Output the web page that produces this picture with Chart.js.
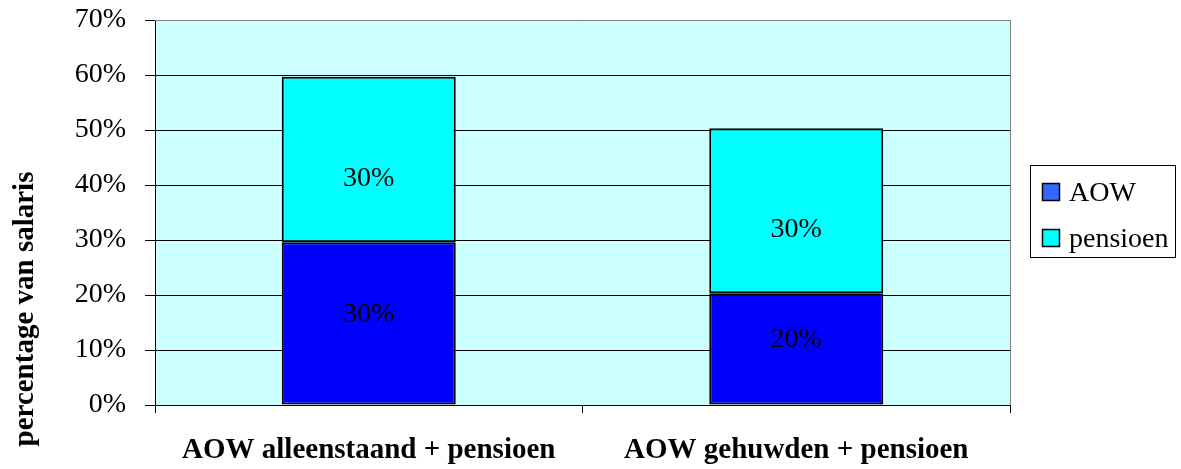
<!DOCTYPE html>
<html>
<head>
<meta charset="utf-8">
<script src="https://cdn.jsdelivr.net/npm/chart.js@4.4.0/dist/chart.umd.min.js"></script>
<style>
  body { margin: 0; background: #fff; }
  #wrap { width: 1181px; height: 469px; }
</style>
</head>
<body>
<div id="wrap"><canvas id="myChart" width="1181" height="469"></canvas></div>
<script>
// data
const categorieen = ['AOW alleenstaand + pensioen', 'AOW gehuwden + pensioen'];
const aow = [29.6, 20.3];
const pensioen = [30.1, 30.0];
const tickLabels = ['0%', '10%', '20%', '30%', '40%', '50%', '60%', '70%'];

const serif = '"Liberation Serif", "Times New Roman", serif';

// achtergrond + rand van het plotgebied
const plotBg = {
  id: 'plotBg',
  beforeDraw(chart) {
    const a = chart.chartArea, ctx = chart.ctx;
    ctx.save();
    ctx.fillStyle = '#CCFFFF';
    ctx.fillRect(a.left, a.top, a.right - a.left, a.bottom - a.top);
    ctx.restore();
  },
  afterDraw(chart) {
    const a = chart.chartArea, ctx = chart.ctx;
    ctx.save();
    ctx.strokeStyle = '#808080';
    ctx.lineWidth = 1;
    ctx.beginPath();
    ctx.moveTo(a.left, a.top + 0.5);
    ctx.lineTo(a.right + 0.5, a.top + 0.5);
    ctx.lineTo(a.right + 0.5, a.bottom);
    ctx.stroke();
    ctx.restore();
  }
};

// waarden in de staven (excel zet ze niet precies in het midden)
const labelShift = [-9, 19];
const barLabels = {
  id: 'barLabels',
  afterDatasetsDraw(chart) {
    const ctx = chart.ctx;
    ctx.save();
    ctx.font = '28px ' + serif;
    ctx.fillStyle = '#000';
    ctx.textAlign = 'center';
    ctx.textBaseline = 'middle';
    chart.data.datasets.forEach(function (ds, i) {
      chart.getDatasetMeta(i).data.forEach(function (bar, j) {
        const midY = (bar.y + bar.base) / 2 + labelShift[i];
        ctx.fillText(Math.round(ds.data[j] / 10) * 10 + '%', bar.x, midY);
      });
    });
    ctx.restore();
  }
};

// astitel en legenda
const extras = {
  id: 'extras',
  afterDraw(chart) {
    const ctx = chart.ctx;
    ctx.save();
    ctx.font = 'bold 29px ' + serif;
    ctx.fillStyle = '#000';
    ctx.translate(26, 309);
    ctx.rotate(-Math.PI / 2);
    ctx.textAlign = 'center';
    ctx.textBaseline = 'middle';
    ctx.fillText('percentage van salaris', 0, 0);
    ctx.restore();

    ctx.save();
    ctx.strokeStyle = '#000';
    ctx.lineWidth = 1;
    ctx.strokeRect(1030.5, 165.5, 145, 92);
    const items = [['AOW', '#3366FF'], ['pensioen', '#00FFFF']];
    ctx.font = '28px ' + serif;
    ctx.textBaseline = 'alphabetic';
    items.forEach(function (it, k) {
      const y = 183 + k * 46;
      ctx.fillStyle = it[1];
      ctx.fillRect(1042.5, y + 0.5, 17, 17);
      ctx.lineWidth = 1.5;
      ctx.strokeRect(1042.5, y + 0.5, 17, 17);
      ctx.fillStyle = '#000';
      ctx.fillText(it[0], 1069, y + 18);
    });
    ctx.restore();
  }
};

const ctx = document.getElementById('myChart').getContext('2d');
const myChart = new Chart(ctx, {
  type: 'bar',
  data: {
    labels: categorieen,
    datasets: [{
      label: 'AOW',
      data: aow,
      backgroundColor: '#0000FF',
      borderColor: '#000',
      borderWidth: 2,
      borderSkipped: false,
      barPercentage: 0.407,
      categoryPercentage: 1
    }, {
      label: 'pensioen',
      data: pensioen,
      backgroundColor: '#00FFFF',
      borderColor: '#000',
      borderWidth: 2,
      borderSkipped: false,
      barPercentage: 0.407,
      categoryPercentage: 1
    }]
  },
  options: {
    responsive: false,
    animation: false,
    layout: { padding: { left: 0, top: 20, right: 171, bottom: 0 } },
    plugins: {
      legend: { display: false },
      tooltip: { enabled: false }
    },
    scales: {
      x: {
        stacked: true,
        grid: { offset: true, drawOnChartArea: false, color: '#000', tickLength: 8 },
        border: { color: '#000' },
        ticks: { color: '#000', padding: 20, font: { family: serif, size: 29, weight: 'bold' } },
        afterFit(scale) {
          scale.height = 64;
          scale.paddingLeft = 0;
          scale.paddingRight = 0;
        }
      },
      y: {
        stacked: true,
        min: 0,
        max: 70,
        grid: { color: '#000', tickLength: 10 },
        border: { color: '#000' },
        ticks: {
          stepSize: 10,
          color: '#000',
          padding: 19,
          font: { family: serif, size: 28 },
          callback: function (v, i) { return tickLabels[i]; }
        },
        afterFit(scale) {
          scale.width = 155;
          scale.paddingTop = 0;
          scale.paddingBottom = 0;
        }
      }
    }
  },
  plugins: [plotBg, barLabels, extras]
});
</script>
</body>
</html>
